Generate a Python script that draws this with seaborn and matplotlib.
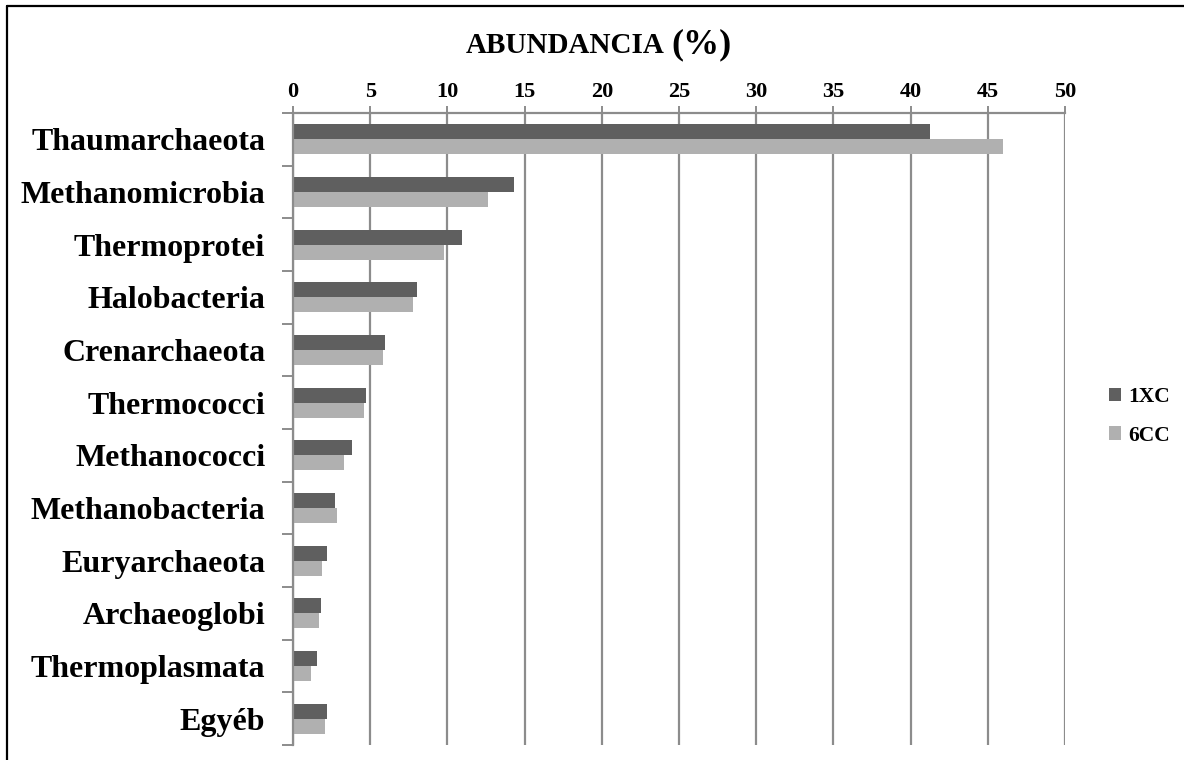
import pandas as pd
import matplotlib.pyplot as plt
import seaborn as sns
from matplotlib.lines import Line2D
from matplotlib.ticker import FixedLocator

taxa = [
    "Thaumarchaeota", "Methanomicrobia", "Thermoprotei", "Halobacteria",
    "Crenarchaeota", "Thermococci", "Methanococci", "Methanobacteria",
    "Euryarchaeota", "Archaeoglobi", "Thermoplasmata", "Egyéb",
]
vals_1xc = [41.25, 14.3, 10.95, 8.0, 5.95, 4.7, 3.8, 2.7, 2.2, 1.8, 1.55, 2.2]
vals_6cc = [46.0, 12.65, 9.8, 7.75, 5.85, 4.6, 3.3, 2.85, 1.9, 1.65, 1.15, 2.05]
samples = ["1XC", "6CC"]
x_ticks = [0, 5, 10, 15, 20, 25, 30, 35, 40, 45, 50]

df = pd.DataFrame({
    "taxon": taxa * 2,
    "value": vals_1xc + vals_6cc,
    "sample": [samples[0]] * len(taxa) + [samples[1]] * len(taxa),
})

sns.set_style("white")
plt.rcParams["font.family"] = ["Liberation Serif", "DejaVu Serif"]
plt.rcParams["font.weight"] = "bold"
plt.rcParams["text.color"] = "black"
plt.rcParams["xtick.labelcolor"] = "black"
plt.rcParams["ytick.labelcolor"] = "black"

fig = plt.figure(figsize=(11.84, 7.6), dpi=100)
ax = fig.add_axes([0.2475, 0.0197, 0.652, 0.8316])

sns.barplot(
    data=df, y="taxon", x="value", hue="sample", orient="h",
    palette=["#5f5f5f", "#b0b0b0"], width=0.57, saturation=1,
    edgecolor="none", ax=ax,
)

grid_c = "#8c8c8c"
ax.set_xlim(0, 50)
ax.set_ylim(len(taxa) - 0.5, -0.5)
ax.set_xticks(x_ticks)
ax.xaxis.tick_top()
ax.xaxis.set_label_position("top")
ax.set_xlabel("")
ax.set_ylabel("")
ax.grid(axis="x", color=grid_c, linewidth=1.6)
ax.set_axisbelow(True)

for s in ["bottom", "right"]:
    ax.spines[s].set_visible(False)
for s in ["top", "left"]:
    ax.spines[s].set_color(grid_c)
    ax.spines[s].set_linewidth(1.6)

ax.tick_params(axis="x", top=True, length=5, width=1.4, color=grid_c,
               labelsize=16, pad=3)
ax.tick_params(axis="y", which="major", length=0, labelsize=23, pad=20)
ax.yaxis.set_minor_locator(FixedLocator([i + 0.5 for i in range(-1, len(taxa))]))
ax.tick_params(axis="y", which="minor", left=True, length=8, width=1.4,
               color=grid_c)
for lbl in ax.get_xticklabels() + ax.get_yticklabels():
    lbl.set_fontweight("bold")

ax.legend(
    loc="center left", bbox_to_anchor=(0.9294, 0.452),
    bbox_transform=fig.transFigure, frameon=False, borderaxespad=0,
    handlelength=0.56, handleheight=0.56, handletextpad=0.33,
    labelspacing=0.85, prop={"size": 15.5, "weight": "bold"},
)

fig.text(0.561, 0.930, "ABUNDANCIA", ha="right", va="baseline",
         fontsize=21, fontweight="bold")
fig.text(0.567, 0.930, "(%)", ha="left", va="baseline",
         fontsize=26, fontweight="bold")

# frame lines on top and left only, as in the source image
fig.add_artist(Line2D([7 / 1184, 1.0], [1 - 6 / 760, 1 - 6 / 760],
                      transform=fig.transFigure, color="black", linewidth=1.6))
fig.add_artist(Line2D([7 / 1184, 7 / 1184], [0.0, 1 - 6 / 760],
                      transform=fig.transFigure, color="black", linewidth=1.6))

plt.savefig("out.png", dpi=100)
